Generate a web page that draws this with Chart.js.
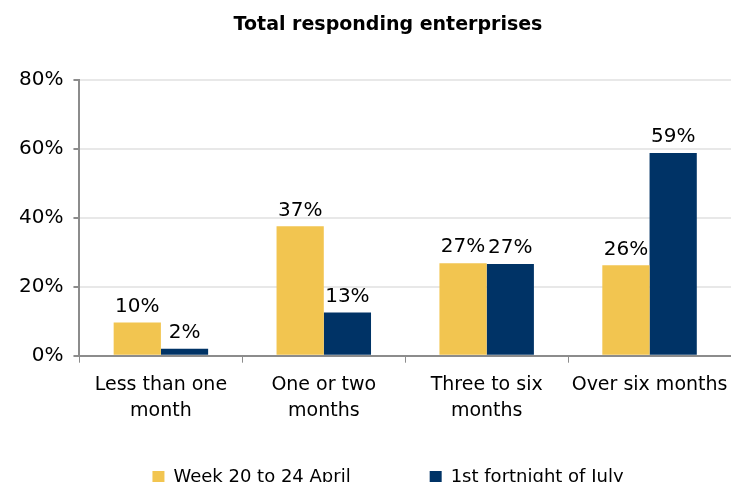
<!DOCTYPE html>
<html>
<head>
<meta charset="utf-8">
<script src="https://cdn.jsdelivr.net/npm/chart.js@4.4.1/dist/chart.umd.min.js"></script>
<style>
  html, body { margin: 0; padding: 0; background: #fff; overflow: hidden; }
  #wrap { position: relative; width: 731px; height: 541px; }
</style>
</head>
<body>
<div id="wrap"><canvas id="myChart"></canvas></div>
<script>
const categories = [["Less than one", "month"], ["One or two", "months"], ["Three to six", "months"], "Over six months"];
const seriesNames = ["Week 20 to 24 April", "1st fortnight of July"];
const aprilValues = [9.6, 37.5, 26.8, 26.2];
const julyValues = [2.0, 12.5, 26.6, 58.8];
const aprilLabels = ["10%", "37%", "27%", "26%"];
const julyLabels = ["2%", "13%", "27%", "59%"];
const yTicks = [0, 20, 40, 60, 80];

const fontName = "'DejaVu Sans', Verdana, sans-serif";

// draws the value text over each bar
const barLabels = {
  id: 'barLabels',
  afterDatasetsDraw(chart) {
    const c = chart.ctx;
    const texts = [aprilLabels, julyLabels];
    c.save();
    c.font = "20px " + fontName;
    c.fillStyle = "#000";
    c.textAlign = "center";
    c.textBaseline = "bottom";
    chart.data.datasets.forEach((ds, i) => {
      chart.getDatasetMeta(i).data.forEach((bar, j) => {
        c.fillText(texts[i][j], bar.x, bar.y - 6);
      });
    });
    c.restore();
  }
};

// legend needs wide gaps between items but not that much room above it,
// and the title sits a bit right of the canvas centre
const nudge = {
  id: 'nudge',
  afterLayout(chart) {
    const lg = chart.legend;
    lg.top -= 45;
    lg.bottom -= 45;
    lg.left += 18;
    lg.right += 18;
    const tt = chart.titleBlock;
    tt.left += 18;
    tt.right += 18;
  }
};

new Chart(document.getElementById('myChart'), {
  type: 'bar',
  data: {
    labels: categories,
    datasets: [{
      label: seriesNames[0],
      data: aprilValues,
      backgroundColor: '#F2C550'
    }, {
      label: seriesNames[1],
      data: julyValues,
      backgroundColor: '#003366'
    }]
  },
  plugins: [barLabels, nudge],
  options: {
    responsive: true,
    maintainAspectRatio: false,
    animation: false,
    layout: { padding: { left: 9, right: 0, top: 0, bottom: 0 } },
    datasets: { bar: { barPercentage: 1, categoryPercentage: 0.58 } },
    plugins: {
      title: {
        display: true,
        text: 'Total responding enterprises',
        color: '#000',
        font: { family: fontName, size: 19, weight: 'bold' },
        padding: { top: 14, bottom: 43 }
      },
      legend: {
        position: 'bottom',
        labels: {
          color: '#000',
          boxWidth: 12,
          boxHeight: 12,
          padding: 79,
          font: { family: fontName, size: 18 }
        }
      },
      tooltip: { enabled: false }
    },
    scales: {
      x: {
        // plot runs right up to the edge, last label fits in its slot
        afterFit: scale => { scale.paddingRight = 0; },
        grid: {
          offset: true,
          drawOnChartArea: false,
          drawTicks: true,
          tickLength: 7,
          color: '#8c8c8c'
        },
        border: { color: '#8c8c8c', width: 2 },
        ticks: {
          color: '#000',
          padding: 10,
          maxRotation: 0,
          autoSkip: false,
          font: { family: fontName, size: 19, lineHeight: 1.35 }
        }
      },
      y: {
        min: 0,
        max: 80,
        afterBuildTicks: axis => { axis.ticks = yTicks.map(v => ({ value: v })); },
        grid: {
          color: '#e8e8e8',
          lineWidth: 2,
          tickColor: '#8c8c8c',
          tickLength: 6
        },
        border: { color: '#8c8c8c', width: 2 },
        ticks: {
          color: '#000',
          padding: 10,
          font: { family: fontName, size: 20 },
          callback: v => v + '%'
        }
      }
    }
  }
});
</script>
</body>
</html>
